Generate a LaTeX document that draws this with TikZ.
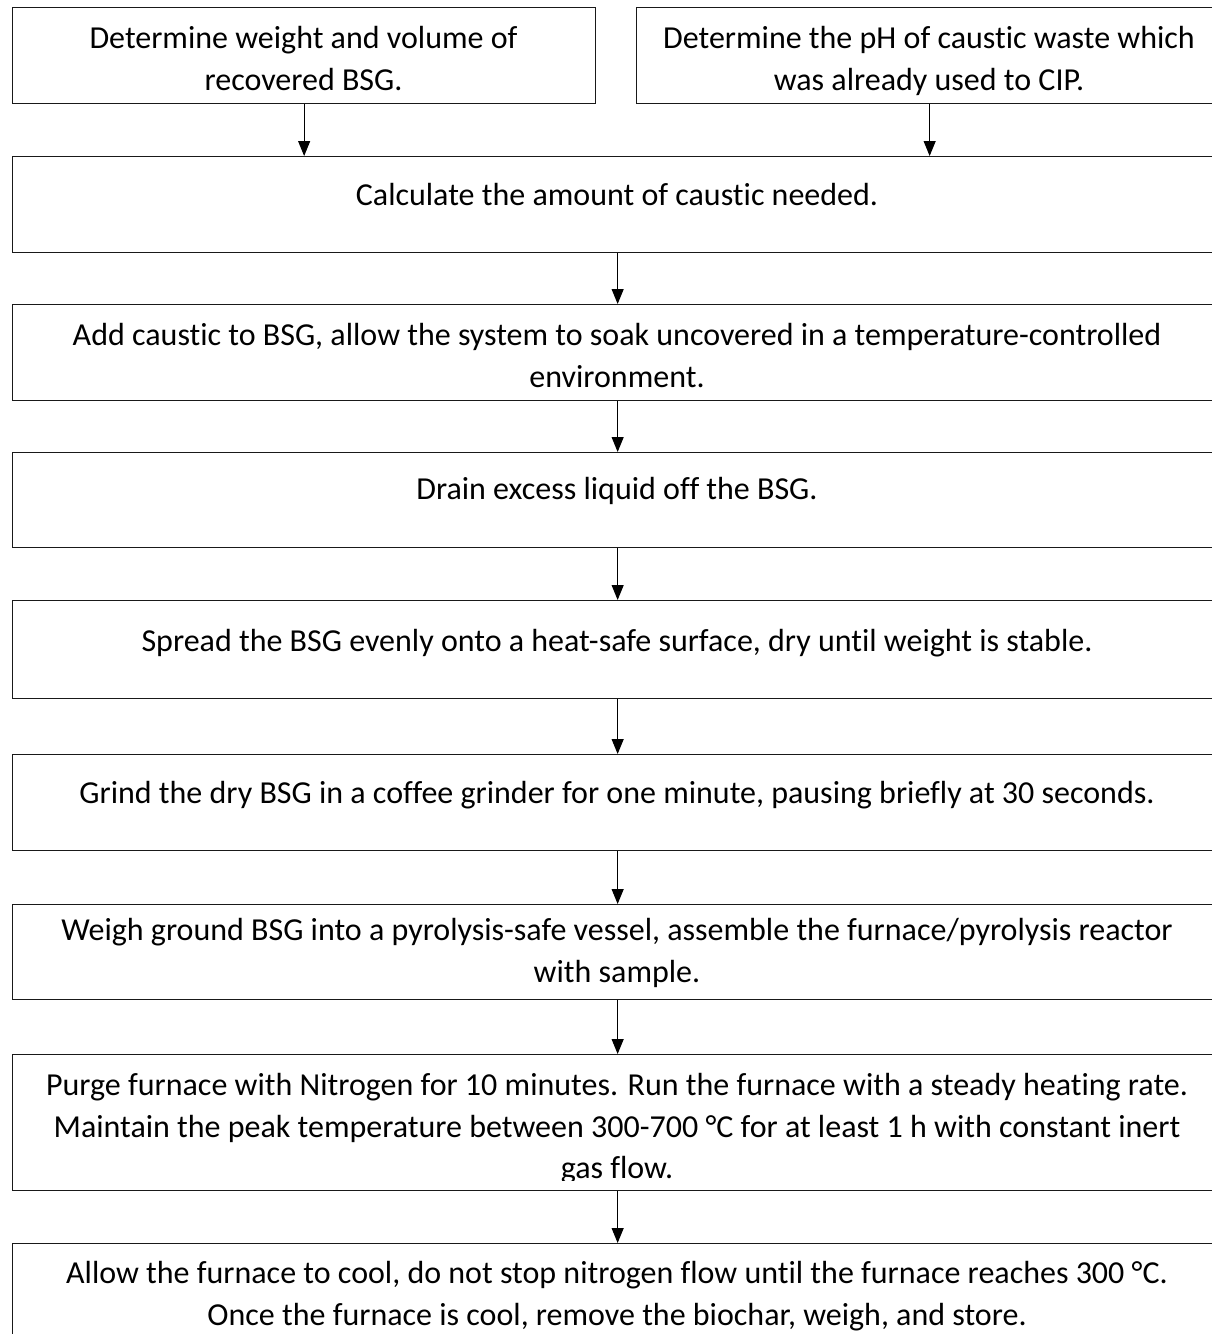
\documentclass[tikz,border=0pt]{standalone}
\usepackage{fontspec}
\setmainfont{Carlito}[Ligatures={NoCommon,NoDiscretionary}]
\usetikzlibrary{arrows.meta}
\tikzset{
  box/.style={draw=black!90, line width=1.3pt, rectangle, inner sep=0pt, anchor=north west},
  txt/.style={anchor=base, inner sep=0pt, font=\fontsize{32}{42}\selectfont},
  arr/.style={draw=black, line width=1.1pt, -{Triangle[length=15pt,width=12pt]}}
}
\newcommand{\mkbox}[5]{% name, x, y, w, h
  \node[box, minimum width=#4pt, minimum height=#5pt] (#1) at (#2,#3) {};}
\begin{document}
\begin{tikzpicture}[x=1pt,y=-1pt]
\useasboundingbox (0,0) rectangle (1211,1334);
\fill[white] (0,0) rectangle (1211,1334);
\mkbox{b1}{12}{7}{583}{96}
\mkbox{b2}{636}{7}{586}{96}
\mkbox{b3}{12}{156}{1210}{96}
\mkbox{b4}{12}{304}{1210}{96}
\mkbox{b5}{12}{452}{1210}{95}
\mkbox{b6}{12}{600}{1210}{98}
\mkbox{b7}{12}{754}{1210}{96}
\mkbox{b8}{12}{904}{1210}{95}
\mkbox{b9}{12}{1054}{1210}{136}
\mkbox{b10}{12}{1243}{1210}{130}

\node[txt] (t1a) at (303.5,48) {Determine weight and volume of};
\node[txt] (t1b) at (303.5,90) {recovered BSG.};
\node[txt] (t2a) at (929,48) {Determine the pH of caustic waste which};
\node[txt] (t2b) at (929,90) {was already used to CIP.};
\node[txt] (t3) at (617,205) {Calculate the amount of caustic needed.};
\node[txt] (t4a) at (617,345) {Add caustic to BSG, allow the system to soak uncovered in a temperature-controlled};
\node[txt] (t4b) at (617,387) {environment.};
\node[txt] (t5) at (617,499) {Drain excess liquid off the BSG.};
\node[txt] (t6) at (617,651) {Spread the BSG evenly onto a heat-safe surface, dry until weight is stable.};
\node[txt] (t7) at (617,803) {Grind the dry BSG in a coffee grinder for one minute, pausing briefly at 30 seconds.};
\node[txt] (t8a) at (617,940) {Weigh ground BSG into a pyrolysis-safe vessel, assemble the furnace/pyrolysis reactor};
\begin{scope}
\clip (12,904) rectangle (1222,989);
\node[txt] (t8b) at (617,982) {with sample.};
\end{scope}
\node[txt] (t9a) at (617,1095) {Purge furnace with Nitrogen for 10 minutes. Run the furnace with a steady heating rate.};
\node[txt] (t9b) at (617,1137) {Maintain the peak temperature between 300-700 °C for at least 1 h with constant inert};
\begin{scope}
\clip (12,1054) rectangle (1222,1180);
\node[txt] (t9c) at (617,1178) {gas flow.};
\end{scope}
\node[txt] (t10a) at (617,1283) {Allow the furnace to cool, do not stop nitrogen flow until the furnace reaches 300 °C.};
\node[txt] (t10b) at (617,1325) {Once the furnace is cool, remove the biochar, weigh, and store.};

\draw[arr] (b1.south) -- (b1.south |- b3.north);
\draw[arr] (b2.south) -- (b2.south |- b3.north);
\draw[arr] (b3.south) -- (b4.north);
\draw[arr] (b4.south) -- (b5.north);
\draw[arr] (b5.south) -- (b6.north);
\draw[arr] (b6.south) -- (b7.north);
\draw[arr] (b7.south) -- (b8.north);
\draw[arr] (b8.south) -- (b9.north);
\draw[arr] (b9.south) -- (b10.north);
\end{tikzpicture}
\end{document}
